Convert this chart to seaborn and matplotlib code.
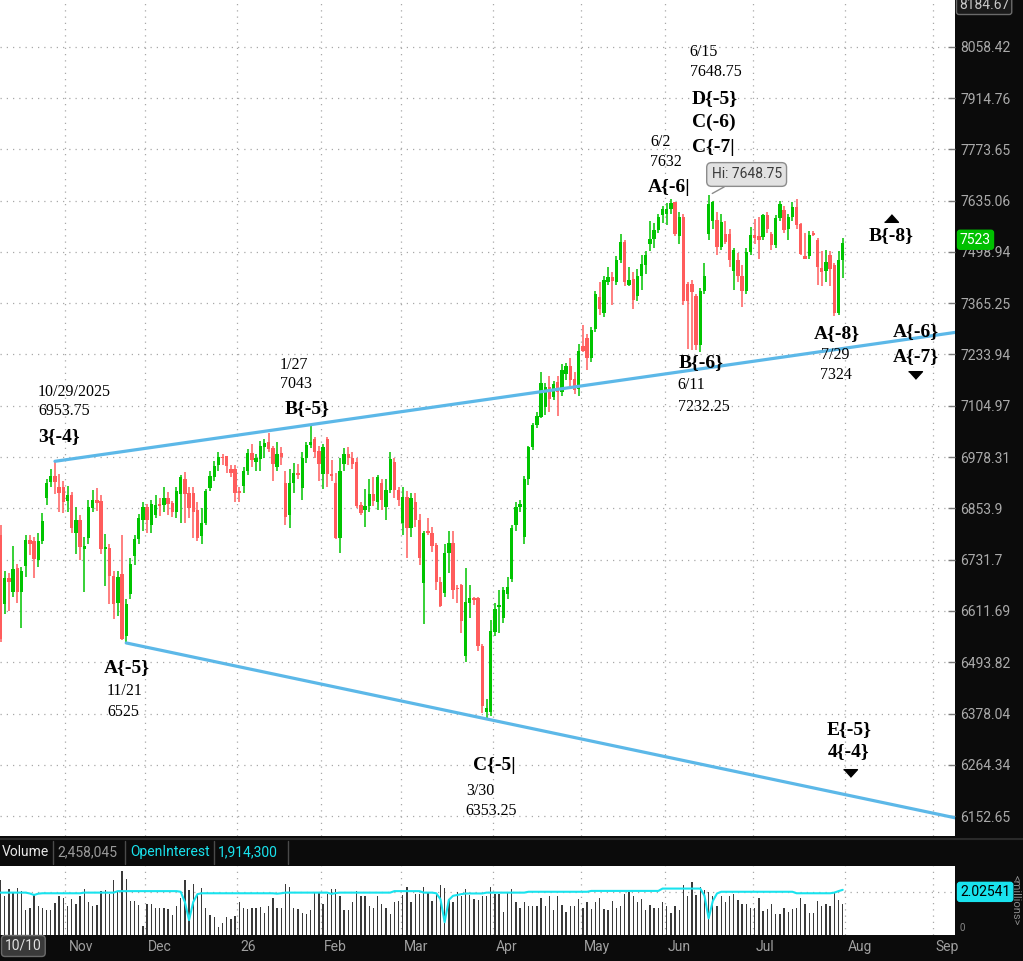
"""
Futures daily candles with wave labels, trend channel and volume / open interest panel.
"""

# -------------------------------------------------- IMPORTS -------------------------------------------------- #

import numpy as np
import pandas as pd
import seaborn as sns
import matplotlib.pyplot as plt
from matplotlib.lines import Line2D
from matplotlib.ticker import NullLocator
from matplotlib.transforms import offset_copy

# -------------------------------------------------- DATA -------------------------------------------------- #

opens = [6790, 6628, 6689, 6656, 6712, 6655, 6717, 6779, 6775, 6730,
         6776, 6880, 6917, 6931, 6905, 6906, 6872, 6885, 6796, 6826,
         6758, 6782, 6855, 6874, 6872, 6757, 6760, 6693, 6630, 6697,
         6553, 6652, 6740, 6781, 6826, 6857, 6815, 6838, 6865, 6862,
         6878, 6867, 6845, 6888, 6925, 6892, 6892, 6850, 6789, 6820,
         6904, 6929, 6958, 6978, 6980, 6950, 6948, 6896, 6909, 6944,
         6988, 6966, 6973, 7004, 7015, 7000, 6953, 6988, 6916, 6838,
         6916, 6939, 6904, 6976, 7008, 7022, 6993, 6937, 7022, 6936,
         6914, 6782, 6961, 6985, 6976, 6966, 6862, 6850, 6860, 6889,
         6870, 6916, 6858, 6899, 6966, 6899, 6818, 6882, 6808, 6870,
         6826, 6678, 6800, 6795, 6767, 6680, 6654, 6747, 6772, 6666,
         6672, 6508, 6630, 6643, 6642, 6530, 6381, 6381, 6562, 6620,
         6595, 6650, 6686, 6814, 6857, 6785, 6924, 7002, 7058, 7077,
         7102, 7152, 7127, 7165, 7140, 7185, 7205, 7172, 7147, 7255,
         7275, 7226, 7299, 7382, 7340, 7420, 7433, 7420, 7478, 7525,
         7412, 7427, 7384, 7437, 7465, 7520, 7533, 7557, 7596, 7600,
         7612, 7630, 7541, 7592, 7414, 7414, 7385, 7258, 7398, 7545,
         7581, 7584, 7513, 7547, 7547, 7450, 7478, 7437, 7397, 7499,
         7544, 7541, 7537, 7596, 7547, 7518, 7588, 7611, 7559, 7590,
         7619, 7573, 7488, 7488, 7550, 7531, 7457, 7448, 7490, 7465,
         7340, 7478]

highs = [6815, 6705, 6700, 6763, 6722, 6715, 6790, 6790, 6786, 6796,
         6843, 6924, 6950, 6968, 6936, 6920, 6909, 6893, 6858, 6838,
         6785, 6874, 6899, 6902, 6885, 6793, 6768, 6705, 6705, 6790,
         6640, 6735, 6790, 6840, 6870, 6865, 6875, 6885, 6880, 6905,
         6893, 6872, 6905, 6935, 6942, 6906, 6905, 6870, 6855, 6900,
         6945, 6968, 6990, 6985, 6982, 6958, 6960, 6905, 6955, 6998,
         7010, 6985, 7018, 7022, 7038, 7005, 7015, 7002, 6945, 6948,
         6965, 6962, 6990, 7015, 7058, 7028, 7005, 7010, 7028, 6970,
         6940, 6975, 7000, 7003, 6990, 6975, 6870, 6900, 6925, 6930,
         6935, 6925, 6925, 6990, 6975, 6905, 6905, 6895, 6890, 6890,
         6840, 6800, 6830, 6810, 6772, 6690, 6768, 6800, 6800, 6672,
         6675, 6712, 6672, 6645, 6645, 6535, 6410, 6590, 6630, 6660,
         6668, 6690, 6814, 6870, 6875, 6932, 7005, 7062, 7090, 7190,
         7162, 7180, 7168, 7180, 7210, 7212, 7225, 7190, 7260, 7310,
         7285, 7305, 7398, 7420, 7435, 7460, 7445, 7488, 7545, 7530,
         7460, 7445, 7455, 7490, 7500, 7580, 7575, 7598, 7620, 7628,
         7640, 7631, 7605, 7600, 7420, 7425, 7390, 7405, 7470, 7648.75,
         7635, 7605, 7600, 7580, 7560, 7510, 7495, 7465, 7508, 7565,
         7585, 7590, 7600, 7605, 7552, 7597, 7635, 7620, 7600, 7630,
         7640, 7575, 7550, 7555, 7555, 7535, 7500, 7505, 7500, 7470,
         7500, 7535]

lows = [6540, 6605, 6612, 6645, 6630, 6572, 6690, 6742, 6688, 6714,
        6770, 6863, 6905, 6888, 6846, 6843, 6845, 6794, 6745, 6730,
        6656, 6770, 6845, 6848, 6745, 6669, 6628, 6593, 6600, 6545,
        6538, 6640, 6720, 6770, 6800, 6796, 6796, 6830, 6835, 6845,
        6838, 6833, 6830, 6820, 6820, 6830, 6783, 6775, 6770, 6815,
        6895, 6920, 6945, 6958, 6940, 6930, 6870, 6870, 6890, 6935,
        6955, 6945, 6945, 6975, 6990, 6919, 6945, 6960, 6815, 6808,
        6890, 6925, 6875, 6965, 7000, 6975, 6920, 6900, 6905, 6920,
        6780, 6748, 6945, 6960, 6950, 6855, 6838, 6810, 6845, 6860,
        6850, 6850, 6825, 6890, 6880, 6860, 6790, 6735, 6785, 6810,
        6720, 6582, 6790, 6750, 6660, 6620, 6645, 6700, 6640, 6630,
        6560, 6495, 6595, 6625, 6520, 6380, 6366, 6372, 6555, 6560,
        6585, 6640, 6680, 6800, 6845, 6770, 6910, 6995, 7050, 7075,
        7082, 7090, 7120, 7080, 7130, 7170, 7150, 7135, 7130, 7240,
        7195, 7215, 7290, 7335, 7330, 7412, 7361, 7412, 7470, 7410,
        7410, 7350, 7370, 7400, 7440, 7500, 7510, 7550, 7575, 7570,
        7600, 7540, 7520, 7360, 7249, 7245, 7246, 7240, 7390, 7530,
        7560, 7490, 7505, 7520, 7460, 7400, 7420, 7355, 7390, 7490,
        7520, 7480, 7530, 7550, 7505, 7510, 7580, 7550, 7530, 7580,
        7560, 7490, 7480, 7480, 7540, 7412, 7410, 7420, 7410, 7333,
        7336, 7430]

closes = [6547, 6689, 6680, 6710, 6656, 6706, 6779, 6770, 6734, 6777,
          6823, 6914, 6931, 6917, 6892, 6870, 6885, 6806, 6826, 6761,
          6764, 6857, 6874, 6868, 6757, 6762, 6693, 6628, 6690, 6548,
          6628, 6722, 6781, 6830, 6857, 6826, 6865, 6862, 6860, 6879,
          6864, 6845, 6895, 6929, 6888, 6855, 6846, 6782, 6820, 6895,
          6932, 6956, 6978, 6975, 6956, 6940, 6892, 6892, 6944, 6988,
          6970, 6975, 7006, 7012, 6998, 6961, 6985, 6978, 6834, 6916,
          6939, 6935, 6976, 7008, 7016, 6990, 6961, 7003, 6936, 6932,
          6784, 6944, 6985, 6976, 6961, 6860, 6843, 6860, 6889, 6872,
          6929, 6874, 6899, 6973, 6899, 6874, 6882, 6808, 6879, 6826,
          6736, 6795, 6795, 6765, 6680, 6623, 6747, 6772, 6661, 6662,
          6588, 6632, 6642, 6637, 6530, 6394, 6390, 6565, 6616, 6626,
          6660, 6668, 6808, 6857, 6864, 6925, 7002, 7058, 7079, 7163,
          7152, 7122, 7160, 7140, 7195, 7205, 7170, 7145, 7244, 7244,
          7224, 7296, 7388, 7351, 7425, 7433, 7422, 7478, 7525, 7420,
          7425, 7374, 7437, 7467, 7490, 7533, 7557, 7590, 7612, 7612,
          7628, 7547, 7592, 7372, 7372, 7393, 7258, 7398, 7437, 7627,
          7630, 7513, 7579, 7526, 7478, 7504, 7437, 7397, 7499, 7544,
          7535, 7530, 7596, 7559, 7518, 7588, 7627, 7557, 7590, 7619,
          7570, 7494, 7481, 7544, 7544, 7460, 7447, 7472, 7455, 7340,
          7478, 7523]

# volume and open interest, millions of contracts
volume_m = [2.59, 1.81, 2.18, 1.99, 2.23, 2.07, 1.17, 1.29, 1.87, 1.34,
            1.25, 1.18, 1.17, 1.50, 1.84, 1.73, 1.34, 1.68, 1.45, 1.84,
            2.15, 1.56, 1.34, 1.40, 2.07, 2.12, 1.92, 2.59, 2.03, 3.01,
            2.65, 1.60, 1.60, 1.40, 0.40, 1.45, 1.45, 1.29, 1.29, 1.29,
            1.22, 0.95, 1.37, 1.76, 2.59, 2.12, 2.38, 1.92, 2.23, 1.29,
            0.95, 0.83, 0.39, 0.56, 0.83, 0.75, 0.90, 1.56, 1.25, 1.22,
            1.25, 1.29, 1.32, 1.01, 1.37, 1.76, 1.29, 1.25, 2.41, 2.26,
            1.29, 1.22, 1.03, 0.98, 1.18, 1.96, 2.03, 1.45, 1.92, 2.18,
            2.15, 1.81, 1.17, 1.17, 1.56, 2.07, 1.81, 1.84, 1.34, 1.29,
            1.81, 1.45, 1.29, 0.98, 1.53, 1.60, 1.87, 2.27, 1.56, 1.92,
            1.92, 2.27, 2.03, 1.60, 1.99, 2.35, 2.23, 1.65, 1.56, 2.03,
            1.84, 2.18, 1.87, 1.68, 1.65, 1.84, 1.81, 2.27, 1.92, 1.92,
            1.06, 1.96, 2.18, 1.53, 1.25, 1.53, 1.34, 1.34, 1.34, 1.76,
            1.37, 1.81, 1.18, 1.84, 1.40, 1.06, 1.34, 1.34, 1.68, 1.25,
            1.56, 1.22, 1.56, 1.76, 1.22, 1.18, 1.60, 1.25, 1.37, 1.92,
            2.03, 1.81, 1.56, 1.71, 1.18, 1.40, 1.25, 1.25, 1.53, 1.34,
            1.03, 1.34, 1.18, 2.34, 1.81, 2.49, 1.87, 2.27, 2.12, 2.03,
            1.81, 1.37, 1.81, 1.56, 1.81, 1.92, 1.65, 1.45, 1.45, 1.25,
            1.29, 1.76, 1.14, 1.22, 1.45, 0.98, 0.98, 1.25, 1.09, 1.22,
            1.29, 1.76, 1.45, 1.03, 1.03, 1.60, 1.37, 1.45, 1.37, 1.96,
            1.65, 1.45]

open_interest_m = [1.99, 1.99, 1.99, 1.99, 1.99, 1.99, 1.99, 1.95, 1.88, 1.94,
                   1.96, 1.96, 1.96, 1.96, 1.96, 1.96, 1.96, 1.96, 1.96, 1.96,
                   1.99, 1.99, 1.99, 1.99, 1.99, 1.99, 1.99, 1.99, 2.06, 2.06,
                   2.06, 2.06, 2.06, 2.06, 2.06, 2.06, 2.06, 2.06, 2.06, 2.06,
                   2.06, 2.06, 2.06, 2.03, 1.55, 0.70, 1.55, 1.92, 1.96, 1.96,
                   1.96, 1.96, 1.96, 1.96, 1.96, 1.96, 1.96, 1.96, 1.96, 1.96,
                   1.96, 1.96, 1.96, 1.96, 1.96, 1.96, 1.94, 1.96, 1.99, 1.99,
                   1.99, 1.99, 1.99, 1.99, 1.99, 1.99, 1.99, 1.99, 1.99, 1.93,
                   1.97, 1.99, 1.99, 1.99, 1.99, 1.99, 1.99, 1.99, 1.99, 1.99,
                   1.99, 1.99, 1.99, 1.99, 2.06, 2.06, 2.06, 2.06, 2.06, 2.06,
                   2.06, 1.99, 1.99, 1.99, 1.96, 1.68, 0.60, 1.65, 1.84, 1.88,
                   1.92, 1.95, 1.95, 1.95, 1.95, 1.95, 1.99, 1.99, 1.99, 1.99,
                   1.99, 1.99, 1.99, 1.99, 1.99, 1.99, 2.03, 2.03, 2.03, 2.03,
                   2.03, 2.03, 2.03, 2.03, 2.03, 2.03, 2.03, 2.03, 2.03, 2.03,
                   2.03, 2.07, 2.07, 2.07, 2.07, 2.07, 2.07, 2.07, 2.07, 2.07,
                   2.07, 2.07, 2.07, 2.07, 2.07, 2.07, 2.07, 2.07, 2.18, 2.18,
                   2.18, 2.18, 2.18, 2.18, 2.18, 2.18, 2.18, 2.18, 1.85, 0.78,
                   1.60, 1.95, 2.03, 2.03, 2.03, 2.03, 2.03, 2.03, 2.03, 2.03,
                   2.03, 2.03, 2.03, 2.03, 2.03, 2.03, 2.03, 2.03, 2.03, 2.03,
                   1.96, 1.96, 1.96, 1.96, 1.96, 1.96, 1.96, 1.96, 1.96, 1.99,
                   2.06, 2.12]

holidays = ['2025-11-27', '2025-12-25', '2026-01-01', '2026-01-19', '2026-02-16',
            '2026-04-03', '2026-05-25', '2026-06-19', '2026-07-03', '2026-09-07']

price_ticks = [8058.42, 7914.76, 7773.65, 7635.06, 7498.94, 7365.25, 7233.94, 7104.97,
               6978.31, 6853.9, 6731.7, 6611.69, 6493.82, 6378.04, 6264.34, 6152.65]
price_tick_labels = ['8058.42', '7914.76', '7773.65', '7635.06', '7498.94', '7365.25', '7233.94', '7104.97',
                     '6978.31', '6853.9', '6731.7', '6611.69', '6493.82', '6378.04', '6264.34', '6152.65']
top_label = '8184.67'
last_price = 7523
oi_last = 2.02541

# pivots used by the wave labels (label values as written on the chart)
pivot_bars = [13, 74, 169, 160, 199, 167, 30, 116]
pivot_prices = [6953.75, 7043, 7648.75, 7632, 7324, 7232.25, 6525, 6353.25]
pivot_dates = ['10/29/2025', '1/27', '6/15', '6/2', '7/29', '6/11', '11/21', '3/30']
pivot_prices_txt = ['6953.75', '7043', '7648.75', '7632', '7324', '7232.25', '6525', '6353.25']
pivot_waves = [['3{-4}'], ['B{-5}'], ['D{-5}', 'C(-6)', 'C{-7|'], ['A{-6|'],
               ['A{-8}'], ['B{-6}'], ['A{-5}'], ['C{-5|']]

# projected wave targets on the right (bar, price, labels, arrow)
targets = [(212.5, 7543, ['B{-8}'], 'up'),
           (218.5, 7263, ['A{-6}', 'A{-7}'], 'down'),
           (202.5, 6320, ['E{-5}', '4{-4}'], 'down')]

# -------------------------------------------------- STYLE -------------------------------------------------- #

sns.set_theme(style="white")
plt.rcParams['font.family'] = ['Roboto', 'DejaVu Sans']

GREEN = '#00c400'
RED = '#ff5c5c'
CHANNEL = '#5cb8e8'
CYAN = '#19e3ee'
PANEL = '#0b0b0b'
GRID = dict(color='#a8a8a8', linestyle=(0, (1, 4)), linewidth=0.9)
SERIF = 'Liberation Serif'

W, H = 1023, 961
X_MIN, X_MAX = -0.12, 227.8

# layout of the pivot labels: (date dx, dy), (price dx, dy), wave (dx, dy) per line, alignment
pivot_layout = [
    dict(ha='left', date=(-17, 75), price=(-17, 56), waves=[(-17, 31)]),
    dict(ha='left', date=(-31, 66), price=(-31, 47), waves=[(-26, 22)]),
    dict(ha='left', date=(-19, 143), price=(-19, 123), waves=[(-17, 97), (-17, 73), (-17, 48)]),
    dict(ha='left', date=(-21, 60), price=(-21, 40), waves=[(-23, 14)]),
    dict(ha='center', date=(1, -36), price=(2, -56), waves=[(2, -14)]),
    dict(ha='center', date=(-9, -30), price=(4, -52), waves=[(1, -7)]),
    dict(ha='center', date=(-2, -42), price=(-3, -63), waves=[(1, -19)]),
    dict(ha='center', date=(-6, -66), price=(5, -86), waves=[(8, -41)]),
]
target_layout = [dict(waves=[(0, 0)], arrow=(0, 17)),
                 dict(waves=[(0, 12), (0, -13)], arrow=(-1, -32)),
                 dict(waves=[(0, 10), (0, -12)], arrow=(1, -33))]


def note(ax, i, price, text, dx, dy, bold=False, ha='center'):
    ax.annotate(text, xy=(i, price), xytext=(dx, dy), textcoords='offset pixels',
                ha=ha, va='center', family=SERIF, color='black',
                fontsize=14 if bold else 11.5, fontweight='bold' if bold else 'normal',
                annotation_clip=False, zorder=8)


def arrow(fig, ax, i, price, dx, dy, direction):
    tr = offset_copy(ax.transData, fig=fig, x=dx, y=dy, units='dots')
    verts = [(-1, -0.55), (1, -0.55), (0, 0.55)] if direction == 'up' else [(-1, 0.55), (1, 0.55), (0, -0.55)]
    ax.plot([i], [price], marker=verts, markersize=10, color='black', transform=tr,
            linestyle='none', clip_on=False, zorder=8)


def channel(ax, i0, p0, i1, p1, color):
    # straight on the log price axis, extended to the right edge
    xs = np.array([i0, X_MAX + 3])
    slope = (np.log(p1) - np.log(p0)) / (i1 - i0)
    ys = np.exp(np.log(p0) + slope * (xs - i0))
    sns.lineplot(x=xs, y=ys, ax=ax, color=color, linewidth=2.3, zorder=5, legend=False)


# -------------------------------------------------- MAIN -------------------------------------------------- #

cal = pd.bdate_range('2025-10-10', '2026-09-30')
cal = cal[~cal.isin(pd.to_datetime(holidays))]
month_starts = [k for k in range(1, len(cal)) if cal[k].month != cal[k - 1].month]
month_labels = [cal[k].strftime('%y') if cal[k].month == 1 else cal[k].strftime('%b') for k in month_starts]

o = np.array(opens, dtype=float)
hi = np.array(highs, dtype=float)
lo = np.array(lows, dtype=float)
c = np.array(closes, dtype=float)
x = np.arange(len(c))

fig = plt.figure(figsize=(W / 100, H / 100), dpi=100)
fig.patch.set_facecolor(PANEL)

ax = fig.add_axes([0, 1 - 836 / H, 955 / W, 836 / H])
axv = fig.add_axes([0, 1 - 935 / H, 955 / W, 69 / H])
for a in (ax, axv):
    a.set_facecolor('white')
    for s in a.spines.values():
        s.set_visible(False)
    a.set_xlim(X_MIN, X_MAX)
    for k in month_starts:
        a.axvline(k - 0.5, zorder=0, **GRID)

# price panel
ax.set_yscale('log')
ax.set_ylim(6110, 8191.5)
ax.set_yticks(price_ticks)
ax.set_yticklabels(price_tick_labels)
ax.yaxis.set_minor_locator(NullLocator())
ax.yaxis.tick_right()
ax.tick_params(axis='y', direction='in', length=5, width=1, color='#7a7a7a', labelcolor='#aaaaaa',
               labelsize=10, pad=4)
ax.tick_params(axis='x', bottom=False, labelbottom=False)
ax.grid(axis='y', zorder=0, **GRID)
ax.grid(axis='x', visible=False)

up = c >= o
colors = np.where(up, GREEN, RED)
body_lo = np.minimum(o, c)
body_h = np.maximum(np.abs(c - o), np.maximum(o, c) * 0.0005)
ax.vlines(x, lo, hi, colors=colors, linewidth=1.1, zorder=3)
ax.bar(x, body_h, bottom=body_lo, width=0.8, color=colors, linewidth=0, zorder=4)

# channel: 10/29 high to 1/27 high, 11/21 low to 3/30 low
b0, b1, b2, b3 = pivot_bars[0], pivot_bars[1], pivot_bars[6], pivot_bars[7]
channel(ax, b0, highs[b0], b1, highs[b1], CHANNEL)
channel(ax, b2, lows[b2], b3, lows[b3], CHANNEL)
ax.set_xlim(X_MIN, X_MAX)
ax.set_ylim(6110, 8191.5)
ax.set_xlabel('')
ax.set_ylabel('')

for k, lay in enumerate(pivot_layout):
    i, p = pivot_bars[k], pivot_prices[k]
    note(ax, i, p, pivot_dates[k], *lay['date'], ha=lay['ha'])
    note(ax, i, p, pivot_prices_txt[k], *lay['price'], ha=lay['ha'])
    for txt, (dx, dy) in zip(pivot_waves[k], lay['waves']):
        note(ax, i, p, txt, dx, dy, bold=True, ha=lay['ha'])

for (i, p, waves, direction), lay in zip(targets, target_layout):
    for txt, (dx, dy) in zip(waves, lay['waves']):
        note(ax, i, p, txt, dx, dy, bold=True)
    arrow(fig, ax, i, p, *lay['arrow'], direction)

# high bubble on the 6/15 bar
ax.annotate(f'Hi: {highs[169]:.2f}', xy=(169, highs[169]), xytext=(38, 21), textcoords='offset pixels',
            ha='center', va='center', fontsize=10, color='#3a3a3a',
            bbox=dict(boxstyle='round,pad=0.35', fc='#e2e2e2', ec='#8c8c8c', lw=1),
            arrowprops=dict(arrowstyle='-', color='#8c8c8c', lw=1, shrinkA=0, shrinkB=3), zorder=9)

# right-hand price badges
ax.annotate(str(last_price), xy=(1, last_price), xycoords=('axes fraction', 'data'), xytext=(5, 3),
            textcoords='offset pixels', ha='left', va='center', fontsize=10, color='white',
            bbox=dict(boxstyle='round,pad=0.18', fc='#00c000', ec='#00c000'), annotation_clip=False)
fig.text(959 / W, 1 - 5 / H, top_label, ha='left', va='center', fontsize=10, color='#c8c8c8',
         bbox=dict(boxstyle='round,pad=0.18', fc='#1a1a1a', ec='#6a6a6a'))

# volume / open interest panel
axv.bar(x, volume_m, width=0.32, color='#3a3a3a', linewidth=0, zorder=2)
sns.lineplot(x=x, y=open_interest_m, ax=axv, color=CYAN, linewidth=1.5, zorder=3, legend=False)
axv.axhline(oi_last, zorder=1, **GRID)
axv.set_ylim(0, 3.24)
axv.set_xlim(X_MIN, X_MAX)
axv.set_xlabel('')
axv.set_ylabel('')
axv.set_xticks([])
axv.set_yticks([])
axv.annotate(f'{oi_last}', xy=(1, oi_last), xycoords=('axes fraction', 'data'), xytext=(5, 0),
             textcoords='offset pixels', ha='left', va='center', fontsize=10, color='black',
             bbox=dict(boxstyle='round,pad=0.18', fc=CYAN, ec=CYAN), annotation_clip=False)
axv.annotate('0', xy=(1, 0), xycoords='axes fraction', xytext=(5, 2), textcoords='offset pixels',
             ha='left', va='bottom', fontsize=7, color='#888888', annotation_clip=False)
fig.text(1016 / W, 1 - 900 / H, '<millions>', rotation=270, ha='center', va='center',
         fontsize=8, color='#8a8a8a')

# month labels under the volume panel
for k, lab in zip(month_starts, month_labels):
    axv.annotate(lab, xy=(k - 0.5, 0), xycoords=('data', 'axes fraction'), xytext=(3, -12),
                 textcoords='offset pixels', ha='left', va='center', fontsize=10, color='#a0a0a0',
                 annotation_clip=False)
fig.text(5 / W, 1 - 946 / H, f'{cal[0].month}/{cal[0].day}', ha='left', va='center', fontsize=10,
         color='#e0e0e0', bbox=dict(boxstyle='round,pad=0.25', fc='#3a3a3a', ec='#6a6a6a'))

# header strip of the lower panel
header_y = 1 - 852 / H
fig.text(2 / W, header_y, 'Volume', ha='left', va='center', fontsize=10, color='#e8e8e8')
fig.text(57 / W, header_y, '2,458,045', ha='left', va='center', fontsize=10, color='#9a9a9a')
fig.text(130 / W, header_y, 'OpenInterest', ha='left', va='center', fontsize=10, color=CYAN)
fig.text(218 / W, header_y, '1,914,300', ha='left', va='center', fontsize=10, color=CYAN)
for sx in (53, 125, 214, 288):
    fig.add_artist(Line2D([sx / W, sx / W], [1 - 864 / H, 1 - 841 / H], color='#4a4a4a', lw=1))
fig.add_artist(Line2D([0, 1], [1 - 839 / H, 1 - 839 / H], color='#2a2a2a', lw=1.5))

fig.savefig('out.png', dpi=100, facecolor=fig.get_facecolor())
